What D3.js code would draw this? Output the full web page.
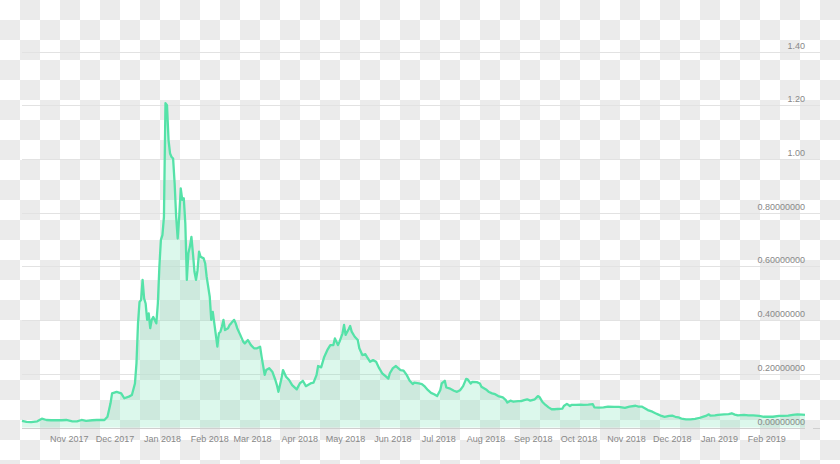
<!DOCTYPE html>
<html>
<head>
<meta charset="utf-8">
<script src="https://cdn.jsdelivr.net/npm/d3@7"></script>
<style>
  body { margin: 0; background: #fff; }
  text { font-family: "Liberation Sans", Arial, sans-serif; }
</style>
</head>
<body>
<div id="chart"></div>
<script>
var width = 840;
var height = 464;

var dates = [
  '2017-10-01','2017-10-04','2017-10-07','2017-10-11','2017-10-14','2017-10-17','2017-10-20','2017-10-24','2017-10-27','2017-10-30',
  '2017-11-03','2017-11-06','2017-11-09','2017-11-12','2017-11-16','2017-11-19','2017-11-21','2017-11-24','2017-11-26','2017-11-28','2017-11-29',
  '2017-12-02','2017-12-05','2017-12-07','2017-12-10','2017-12-12','2017-12-14','2017-12-15','2017-12-16','2017-12-17','2017-12-18','2017-12-19',
  '2017-12-20','2017-12-21','2017-12-22','2017-12-23','2017-12-24','2017-12-25','2017-12-26','2017-12-28','2017-12-29','2017-12-30','2017-12-31',
  '2018-01-01','2018-01-02','2018-01-03','2018-01-04','2018-01-05','2018-01-06','2018-01-07','2018-01-08','2018-01-09','2018-01-10','2018-01-11',
  '2018-01-12','2018-01-13','2018-01-14','2018-01-15','2018-01-16','2018-01-17','2018-01-18','2018-01-19','2018-01-20','2018-01-21','2018-01-22',
  '2018-01-23','2018-01-24','2018-01-25','2018-01-26','2018-01-28','2018-01-29','2018-01-30',
  '2018-02-01','2018-02-02','2018-02-03','2018-02-04','2018-02-05','2018-02-06','2018-02-07','2018-02-08','2018-02-09','2018-02-10','2018-02-11',
  '2018-02-13','2018-02-14','2018-02-15','2018-02-17','2018-02-18','2018-02-19','2018-02-21','2018-02-23','2018-02-24','2018-02-26','2018-02-28',
  '2018-03-02','2018-03-04','2018-03-06','2018-03-07','2018-03-09','2018-03-10','2018-03-12','2018-03-14','2018-03-16','2018-03-17','2018-03-18',
  '2018-03-20','2018-03-21','2018-03-23','2018-03-25','2018-03-27','2018-03-30',
  '2018-04-01','2018-04-03','2018-04-05','2018-04-08','2018-04-10','2018-04-12','2018-04-13','2018-04-15','2018-04-17','2018-04-19','2018-04-21',
  '2018-04-23','2018-04-24','2018-04-26','2018-04-27','2018-04-29','2018-04-30',
  '2018-05-01','2018-05-03','2018-05-04','2018-05-05','2018-05-07','2018-05-09','2018-05-10','2018-05-12','2018-05-14','2018-05-15','2018-05-17',
  '2018-05-19','2018-05-21','2018-05-23','2018-05-25','2018-05-27','2018-05-29','2018-05-30',
  '2018-06-01','2018-06-03','2018-06-06','2018-06-08','2018-06-10','2018-06-12','2018-06-14','2018-06-15','2018-06-18','2018-06-20','2018-06-22',
  '2018-06-24','2018-06-26','2018-06-28','2018-06-30',
  '2018-07-02','2018-07-03','2018-07-05','2018-07-06','2018-07-08','2018-07-11','2018-07-13','2018-07-15','2018-07-17','2018-07-19','2018-07-20',
  '2018-07-22','2018-07-23','2018-07-26','2018-07-28','2018-07-29',
  '2018-08-01','2018-08-03','2018-08-05','2018-08-07','2018-08-09','2018-08-12','2018-08-14','2018-08-15','2018-08-17','2018-08-19','2018-08-22',
  '2018-08-24','2018-08-26','2018-08-28','2018-08-30',
  '2018-09-02','2018-09-04','2018-09-05','2018-09-07','2018-09-09','2018-09-11','2018-09-13','2018-09-15','2018-09-17','2018-09-20','2018-09-21',
  '2018-09-23','2018-09-25','2018-09-26','2018-09-29',
  '2018-10-02','2018-10-04','2018-10-07','2018-10-10','2018-10-11','2018-10-14','2018-10-17','2018-10-20','2018-10-24','2018-10-27','2018-10-31',
  '2018-11-03','2018-11-07','2018-11-09','2018-11-11','2018-11-13','2018-11-15','2018-11-18','2018-11-20','2018-11-22','2018-11-24','2018-11-26',
  '2018-11-29',
  '2018-12-01','2018-12-03','2018-12-05','2018-12-07','2018-12-10','2018-12-13','2018-12-16','2018-12-19','2018-12-23','2018-12-25','2018-12-26',
  '2018-12-29','2018-12-31',
  '2019-01-04','2019-01-07','2019-01-09','2019-01-11','2019-01-13','2019-01-17','2019-01-20','2019-01-23','2019-01-27','2019-01-30',
  '2019-02-02','2019-02-05','2019-02-09','2019-02-12','2019-02-15','2019-02-18','2019-02-21','2019-02-24','2019-02-26'
];

var prices = [
  0.025,0.021,0.020,0.023,0.033,0.028,0.027,0.027,0.027,0.028,
  0.023,0.023,0.028,0.025,0.027,0.028,0.028,0.028,0.040,0.090,0.127,
  0.133,0.127,0.109,0.115,0.121,0.164,0.239,0.388,0.468,0.475,0.550,
  0.481,0.462,0.401,0.425,0.370,0.401,0.412,0.388,0.462,0.599,0.699,
  0.717,0.785,1.208,1.201,1.071,1.021,1.008,1.002,0.910,0.785,0.704,
  0.785,0.891,0.848,0.854,0.761,0.550,0.649,0.674,0.710,0.649,0.580,
  0.550,0.586,0.655,0.636,0.630,0.612,0.561,
  0.487,0.401,0.431,0.388,0.345,0.301,0.351,0.357,0.376,0.401,0.363,
  0.370,0.382,0.388,0.401,0.388,0.370,0.345,0.319,0.313,0.326,0.307,
  0.295,0.295,0.301,0.263,0.196,0.214,0.221,0.208,0.177,0.158,0.133,
  0.183,0.214,0.189,0.177,0.158,0.142,
  0.164,0.174,0.154,0.164,0.167,0.196,0.229,0.224,0.263,0.288,0.307,
  0.307,0.332,0.307,0.319,0.351,0.382,
  0.345,0.366,0.378,0.357,0.338,0.326,0.295,0.270,0.273,0.263,0.245,
  0.251,0.245,0.221,0.202,0.192,0.182,0.202,
  0.221,0.229,0.214,0.212,0.196,0.174,0.162,0.167,0.164,0.162,0.152,
  0.139,0.129,0.124,0.117,
  0.139,0.164,0.174,0.149,0.146,0.137,0.133,0.139,0.154,0.181,0.179,
  0.164,0.170,0.169,0.164,0.152,
  0.142,0.132,0.127,0.124,0.117,0.112,0.102,0.093,0.100,0.096,0.098,
  0.098,0.102,0.105,0.100,
  0.105,0.117,0.114,0.095,0.084,0.075,0.068,0.068,0.069,0.070,0.080,
  0.088,0.080,0.084,0.084,
  0.085,0.084,0.085,0.087,0.075,0.074,0.075,0.078,0.077,0.077,0.073,
  0.078,0.081,0.078,0.078,0.072,0.065,0.059,0.053,0.048,0.043,0.040,
  0.043,
  0.044,0.040,0.038,0.033,0.030,0.030,0.032,0.036,0.043,0.049,0.044,
  0.045,0.047,
  0.049,0.050,0.053,0.048,0.045,0.047,0.045,0.045,0.043,0.040,
  0.040,0.040,0.043,0.043,0.044,0.047,0.049,0.048,0.047
];

var yTicks = [0, 0.2, 0.4, 0.6, 0.8, 1.0, 1.2, 1.4];
var xTicks = ['2017-11-01','2017-12-01','2018-01-01','2018-02-01','2018-03-01','2018-04-01','2018-05-01',
  '2018-06-01','2018-07-01','2018-08-01','2018-09-01','2018-10-01','2018-11-01','2018-12-01','2019-01-01','2019-02-01'];

var parse = d3.utcParse('%Y-%m-%d');
var data = dates.map(function(d, i) { return { date: parse(d), price: prices[i] }; });

var x = d3.scaleUtc()
  .domain([parse('2017-10-01'), parse('2019-02-26')])
  .range([22, 805]);

var y = d3.scaleLinear()
  .domain([0, 1.4])
  .range([427.5, 51.7]);

var svg = d3.select('#chart')
  .append('svg')
    .attr('width', width)
    .attr('height', height);

// transparent-png checkerboard behind everything
var pat = svg.append('defs').append('pattern')
    .attr('id', 'checker')
    .attr('width', 40)
    .attr('height', 40)
    .attr('patternUnits', 'userSpaceOnUse');
pat.append('rect').attr('width', 40).attr('height', 40).attr('fill', '#fff');
pat.append('rect').attr('x', 20).attr('y', 0).attr('width', 20).attr('height', 20).attr('fill', '#ebebeb');
pat.append('rect').attr('x', 0).attr('y', 20).attr('width', 20).attr('height', 20).attr('fill', '#ebebeb');

svg.append('rect')
    .attr('width', width)
    .attr('height', height)
    .attr('fill', 'url(#checker)');

// grid
var grid = svg.append('g');
grid.selectAll('line.grid')
  .data(yTicks.filter(function(d) { return d > 0; })).enter()
  .append('line')
    .attr('class', 'grid')
    .attr('x1', 22)
    .attr('x2', 820)
    .attr('y1', function(d) { return Math.round(y(d)) + 0.5; })
    .attr('y2', function(d) { return Math.round(y(d)) + 0.5; })
    .attr('stroke', '#e2e2e2')
    .attr('stroke-width', 1);

// area + line
svg.append('path')
  .datum(data)
  .attr('d', d3.area()
    .x(function(d) { return x(d.date); })
    .y0(y(0))
    .y1(function(d) { return y(d.price); }))
  .attr('fill', 'rgba(115,227,179,0.25)');

svg.append('path')
  .datum(data)
  .attr('d', d3.line()
    .x(function(d) { return x(d.date); })
    .y(function(d) { return y(d.price); }))
  .attr('fill', 'none')
  .attr('stroke', '#55e2a8')
  .attr('stroke-width', 2.3)
  .attr('stroke-linejoin', 'round');

// baseline
svg.append('line')
    .attr('x1', 22).attr('x2', 805)
    .attr('y1', Math.round(y(0)) + 0.5).attr('y2', Math.round(y(0)) + 0.5)
    .attr('stroke', '#cfcfcf');
svg.append('line')
    .attr('x1', 813).attr('x2', 820)
    .attr('y1', Math.round(y(0)) + 0.5).attr('y2', Math.round(y(0)) + 0.5)
    .attr('stroke', '#cfcfcf');

// y labels
var fmtBig = d3.format('.2f');
var fmtSmall = d3.format('.8f');
svg.append('g').selectAll('text')
  .data(yTicks).enter()
  .append('text')
    .attr('x', 805)
    .attr('y', function(d) { return y(d) - 3; })
    .attr('text-anchor', 'end')
    .attr('font-size', 9)
    .attr('fill', '#888')
    .text(function(d) { return d >= 1 ? fmtBig(d) : fmtSmall(d); });

// x labels
var fmtMonth = d3.utcFormat('%b %Y');
svg.append('g').selectAll('text')
  .data(xTicks.map(parse)).enter()
  .append('text')
    .attr('x', function(d) { return x(d); })
    .attr('y', 441.5)
    .attr('text-anchor', 'middle')
    .attr('font-size', 9)
    .attr('fill', '#888')
    .text(function(d) { return fmtMonth(d); });
</script>
</body>
</html>
